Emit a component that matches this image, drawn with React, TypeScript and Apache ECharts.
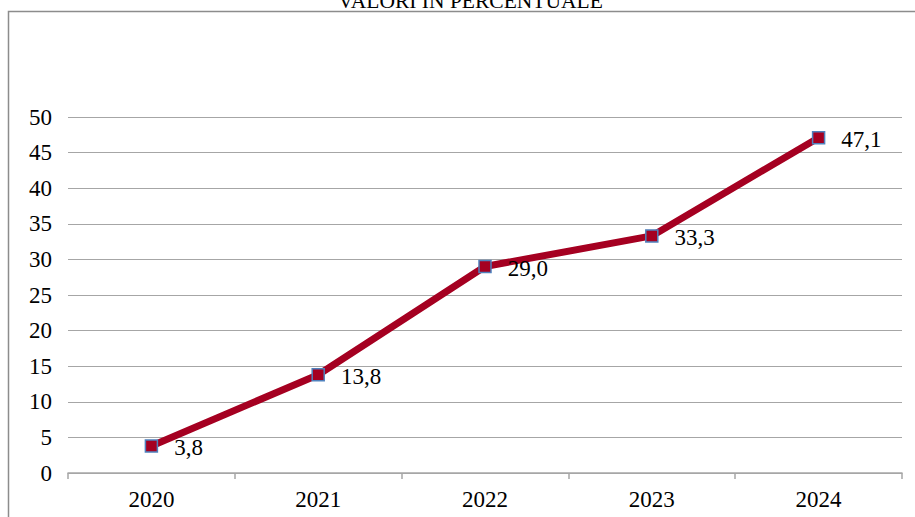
import React, { useEffect, useRef } from "react";
import * as echarts from "echarts";

const titleText = "VALORI IN PERCENTUALE";
const years = ["2020", "2021", "2022", "2023", "2024"];
const values = [3.8, 13.8, 29.0, 33.3, 47.1];
const yMin = 0;
const yMax = 50;
const yStep = 5;

const serif = "Liberation Serif";

export default function App() {
  const ref = useRef<HTMLDivElement>(null);
  useEffect(() => {
    if (!ref.current) return;
    const chart = echarts.init(ref.current, undefined, { renderer: "svg" });
    chart.setOption({
      animation: false,
      backgroundColor: "#ffffff",
      title: {
        text: titleText,
        left: 338,
        top: -10,
        padding: 0,
        textStyle: { fontFamily: serif, fontSize: 21.5, fontWeight: "normal", color: "#000" },
      },
      graphic: [
        {
          type: "rect",
          shape: { x: 8.5, y: 11.5, width: 1000, height: 700 },
          style: { fill: "none", stroke: "#8c8c8c", lineWidth: 1.5 },
          silent: true,
        },
      ],
      grid: { left: 68, right: 13, top: 117, bottom: 44, containLabel: false },
      xAxis: {
        type: "category",
        data: years,
        boundaryGap: true,
        axisLine: { show: true, lineStyle: { color: "#a6a6a6", width: 1.5 } },
        axisTick: { show: true, length: 6, alignWithLabel: false, lineStyle: { color: "#a6a6a6", width: 1.5 } },
        axisLabel: { fontFamily: serif, fontSize: 23, color: "#000", margin: 15 },
      },
      yAxis: {
        type: "value",
        min: yMin,
        max: yMax,
        interval: yStep,
        axisLine: { show: false },
        axisTick: { show: false },
        splitLine: { show: true, lineStyle: { color: "#a6a6a6", width: 1 } },
        axisLabel: { fontFamily: serif, fontSize: 23, color: "#000", margin: 16 },
      },
      series: [
        {
          type: "line",
          data: values,
          symbol: "rect",
          symbolSize: 12,
          lineStyle: { color: "#A50021", width: 7 },
          itemStyle: { color: "#A50021", borderColor: "#4F81BD", borderWidth: 1.5 },
          label: {
            show: true,
            position: "right",
            distance: 16,
            offset: [0, 2],
            fontFamily: serif,
            fontSize: 23,
            color: "#000",
            formatter: (p: any) => Number(p.value).toFixed(1).replace(".", ","),
          },
          z: 3,
        },
      ],
    });
    return () => chart.dispose();
  }, []);
  return <div ref={ref} style={{ width: 915, height: 517, position: "absolute", left: 0, top: 0 }} />;
}
